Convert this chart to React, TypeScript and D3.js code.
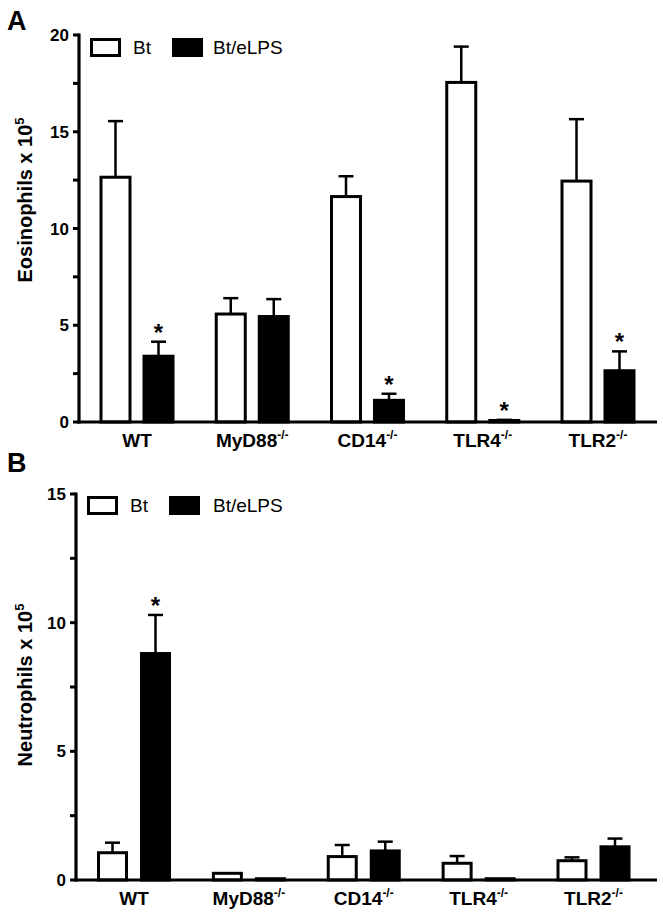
import React from "react";
import * as d3 from "d3";

const categories = ["WT", "MyD88", "CD14", "TLR4", "TLR2"];
const catSup = ["", "-/-", "-/-", "-/-", "-/-"];
const seriesNames = ["Bt", "Bt/eLPS"];

// Panel A: Eosinophils x 10^5
const eosBt = [12.65, 5.58, 11.65, 17.55, 12.45];
const eosBtErr = [2.9, 0.82, 1.05, 1.85, 3.2];
const eosLps = [3.4, 5.45, 1.12, 0.08, 2.65];
const eosLpsErr = [0.75, 0.9, 0.34, 0.03, 1.0];
const eosLpsSig = [true, false, true, true, true];
const eosMajorTicks = [0, 5, 10, 15, 20];
const eosMinorTicks = [2.5, 7.5, 12.5, 17.5];

// Panel B: Neutrophils x 10^5
const neuBt = [1.06, 0.26, 0.91, 0.65, 0.75];
const neuBtErr = [0.39, 0, 0.45, 0.28, 0.13];
const neuLps = [8.8, 0.05, 1.13, 0.05, 1.29];
const neuLpsErr = [1.5, 0, 0.36, 0, 0.32];
const neuLpsSig = [true, false, false, false, false];
const neuMajorTicks = [0, 5, 10, 15];
const neuMinorTicks = [2.5, 7.5, 12.5];

const FONT = "'Liberation Sans', Arial, Helvetica, sans-serif";

type PanelProps = {
  letter: string;
  letterY: number;
  axisX: number;
  top: number;
  bottom: number;
  xEnd: number;
  firstCenter: number;
  lastCenter: number;
  yMax: number;
  major: number[];
  minor: number[];
  white: number[];
  whiteErr: number[];
  black: number[];
  blackErr: number[];
  blackSig: boolean[];
  title: string;
  titleCenter: number;
  barW: number;
  offset: number;
  legendY: number;
  legendX: number[];
};

function Panel(p: PanelProps) {
  const y = d3.scaleLinear().domain([0, p.yMax]).range([p.bottom, p.top]);
  const x = d3.scalePoint<string>().domain(categories).range([p.firstCenter, p.lastCenter]);
  const sw = 3;
  const capHalf = 7.5;

  const bar = (cx: number, v: number, err: number, fill: string, sig: boolean, key: string) => {
    const yt = y(v);
    const ye = y(v + err);
    return (
      <g key={key}>
        {err > 0.02 && (
          <g stroke="#000" strokeWidth={2.5}>
            <line x1={cx} x2={cx} y1={yt} y2={ye} />
            <line x1={cx - capHalf} x2={cx + capHalf} y1={ye} y2={ye} />
          </g>
        )}
        <rect
          x={cx - p.barW / 2}
          y={yt}
          width={p.barW}
          height={Math.max(0.5, y(0) - yt)}
          fill={fill}
          stroke="#000"
          strokeWidth={sw}
        />
        {sig && (
          <text
            x={cx}
            y={Math.min(ye, yt) - 1}
            textAnchor="middle"
            fontFamily={FONT}
            fontWeight="bold"
            fontSize={24}
          >
            *
          </text>
        )}
      </g>
    );
  };

  return (
    <g>
      <text x={7} y={p.letterY} fontFamily={FONT} fontWeight="bold" fontSize={27}>
        {p.letter}
      </text>
      {/* bars */}
      {categories.map((c, i) => {
        const cx = x(c) as number;
        return (
          <g key={c}>
            {bar(cx - p.offset, p.white[i], p.whiteErr[i], "#fff", false, "w")}
            {bar(cx + p.offset, p.black[i], p.blackErr[i], "#000", p.blackSig[i], "b")}
          </g>
        );
      })}
      {/* y axis */}
      <line x1={p.axisX} x2={p.axisX} y1={p.bottom + 1.5} y2={p.top - 1.5} stroke="#000" strokeWidth={3.2} />
      {p.major.map((t) => (
        <g key={"M" + t}>
          <line x1={p.axisX - 6} x2={p.axisX} y1={y(t)} y2={y(t)} stroke="#000" strokeWidth={3} />
          <text
            x={p.axisX - 10}
            y={y(t)}
            dy="0.36em"
            textAnchor="end"
            fontFamily={FONT}
            fontWeight="bold"
            fontSize={17}
          >
            {t}
          </text>
        </g>
      ))}
      {p.minor.map((t) => (
        <line key={"m" + t} x1={p.axisX - 6} x2={p.axisX} y1={y(t)} y2={y(t)} stroke="#000" strokeWidth={3} />
      ))}
      {/* x axis */}
      <line x1={p.axisX - 1.6} x2={p.xEnd} y1={y(0)} y2={y(0)} stroke="#000" strokeWidth={3.2} />
      {categories.map((c, i) => (
        <text
          key={"l" + c}
          x={x(c) as number}
          y={p.bottom + 25}
          textAnchor="middle"
          fontFamily={FONT}
          fontWeight="bold"
          fontSize={19}
        >
          {c}
          {catSup[i] && (
            <tspan fontSize={12} dy={-8}>
              {catSup[i]}
            </tspan>
          )}
        </text>
      ))}
      {/* y title */}
      <text
        transform={`translate(32, ${p.titleCenter}) rotate(-90)`}
        textAnchor="middle"
        fontFamily={FONT}
        fontWeight="bold"
        fontSize={20}
      >
        {p.title}
        <tspan fontSize={13} dy={-8}>
          5
        </tspan>
      </text>
      {/* legend */}
      <rect
        x={p.legendX[0] + 1.5}
        y={p.legendY + 1.5}
        width={28}
        height={16}
        fill="#fff"
        stroke="#000"
        strokeWidth={3}
      />
      <text x={p.legendX[1]} y={p.legendY + 16} fontFamily={FONT} fontSize={19}>
        {seriesNames[0]}
      </text>
      <rect
        x={p.legendX[2] + 1.5}
        y={p.legendY + 1.5}
        width={28}
        height={16}
        fill="#000"
        stroke="#000"
        strokeWidth={3}
      />
      <text x={p.legendX[3]} y={p.legendY + 16} fontFamily={FONT} fontSize={19}>
        {seriesNames[1]}
      </text>
    </g>
  );
}

export default function App() {
  return (
    <svg
      width={663}
      height={915}
      style={{ position: "absolute", left: 0, top: 0, background: "#fff" }}
    >
      <rect width={663} height={915} fill="#fff" />
      <Panel
        letter="A"
        letterY={30}
        axisX={79}
        top={35}
        bottom={422}
        xEnd={657}
        firstCenter={137}
        lastCenter={598}
        yMax={20}
        major={eosMajorTicks}
        minor={eosMinorTicks}
        white={eosBt}
        whiteErr={eosBtErr}
        black={eosLps}
        blackErr={eosLpsErr}
        blackSig={eosLpsSig}
        title="Eosinophils x 10"
        titleCenter={200}
        barW={29}
        offset={21.5}
        legendY={38}
        legendX={[90, 133, 172, 213]}
      />
      <Panel
        letter="B"
        letterY={472}
        axisX={76}
        top={494}
        bottom={880}
        xEnd={657}
        firstCenter={134}
        lastCenter={593.5}
        yMax={15}
        major={neuMajorTicks}
        minor={neuMinorTicks}
        white={neuBt}
        whiteErr={neuBtErr}
        black={neuLps}
        blackErr={neuLpsErr}
        blackSig={neuLpsSig}
        title="Neutrophils x 10"
        titleCenter={685}
        barW={28}
        offset={21.5}
        legendY={496}
        legendX={[87, 130, 169, 213]}
      />
    </svg>
  );
}
